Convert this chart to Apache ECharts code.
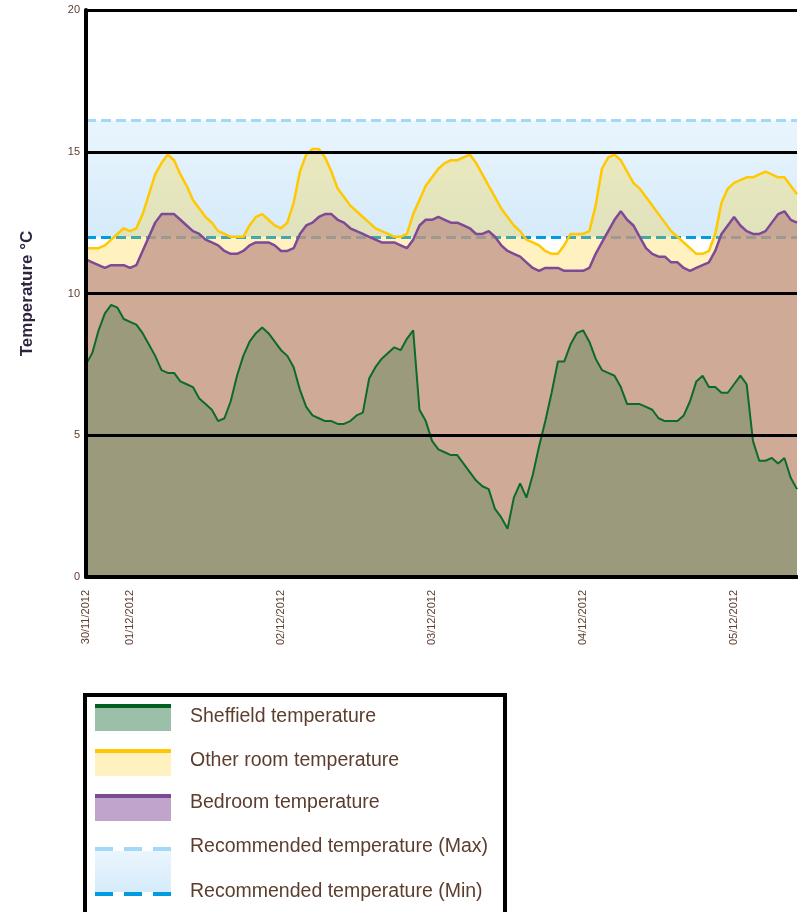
<!DOCTYPE html>
<html>
<head>
<meta charset="utf-8">
<script src="https://cdn.jsdelivr.net/npm/echarts@6/dist/echarts.min.js"></script>
<style>
  html, body { margin: 0; padding: 0; background: #fff; }
  #chart { width: 798px; height: 912px; }
</style>
</head>
<body>
<div id="chart"></div>
<script>
  // hourly readings, starting 17:00 on the first day
  var sheffield = [7.5, 7.9, 8.7, 9.3, 9.6, 9.5, 9.1, 9.0, 8.9, 8.6,
    8.2, 7.8, 7.3, 7.2, 7.2, 6.9, 6.8, 6.7, 6.3, 6.1,
    5.9, 5.5, 5.6, 6.2, 7.1, 7.8, 8.3, 8.6, 8.8, 8.6,
    8.3, 8.0, 7.8, 7.4, 6.6, 6.0, 5.7, 5.6, 5.5, 5.5,
    5.4, 5.4, 5.5, 5.7, 5.8, 7.0, 7.4, 7.7, 7.9, 8.1,
    8.0, 8.4, 8.7, 5.9, 5.5, 4.8, 4.5, 4.4, 4.3, 4.3,
    4.0, 3.7, 3.4, 3.2, 3.1, 2.4, 2.1, 1.7, 2.8, 3.3,
    2.8, 3.6, 4.6, 5.5, 6.5, 7.6, 7.6, 8.2, 8.6, 8.7,
    8.3, 7.7, 7.3, 7.2, 7.1, 6.7, 6.1, 6.1, 6.1, 6.0,
    5.9, 5.6, 5.5, 5.5, 5.5, 5.7, 6.2, 6.9, 7.1, 6.7,
    6.7, 6.5, 6.5, 6.8, 7.1, 6.8, 4.8, 4.1, 4.1, 4.2,
    4.0, 4.2, 3.5, 3.1];
  var otherRoom = [11.6, 11.6, 11.6, 11.7, 11.9, 12.1, 12.3, 12.2, 12.3, 12.8,
    13.5, 14.2, 14.6, 14.9, 14.7, 14.2, 13.8, 13.3, 13.0, 12.7,
    12.5, 12.2, 12.1, 12.0, 12.0, 12.0, 12.4, 12.7, 12.8, 12.6,
    12.4, 12.3, 12.5, 13.2, 14.3, 14.9, 15.1, 15.1, 14.8, 14.3,
    13.7, 13.4, 13.1, 12.9, 12.7, 12.5, 12.3, 12.2, 12.1, 12.0,
    12.0, 12.1, 12.8, 13.3, 13.8, 14.1, 14.4, 14.6, 14.7, 14.7,
    14.8, 14.9, 14.6, 14.2, 13.8, 13.4, 13.0, 12.7, 12.4, 12.2,
    11.9, 11.8, 11.7, 11.5, 11.4, 11.4, 11.7, 12.1, 12.1, 12.1,
    12.2, 13.1, 14.4, 14.8, 14.9, 14.7, 14.3, 13.9, 13.7, 13.4,
    13.1, 12.8, 12.5, 12.2, 12.0, 11.8, 11.6, 11.4, 11.4, 11.5,
    12.1, 13.2, 13.7, 13.9, 14.0, 14.1, 14.1, 14.2, 14.3, 14.2,
    14.1, 14.1, 13.8, 13.5];
  var bedroom = [11.2, 11.1, 11.0, 10.9, 11.0, 11.0, 11.0, 10.9, 11.0, 11.5,
    12.0, 12.5, 12.8, 12.8, 12.8, 12.6, 12.4, 12.2, 12.1, 11.9,
    11.8, 11.7, 11.5, 11.4, 11.4, 11.5, 11.7, 11.8, 11.8, 11.8,
    11.7, 11.5, 11.5, 11.6, 12.1, 12.4, 12.5, 12.7, 12.8, 12.8,
    12.6, 12.5, 12.3, 12.2, 12.1, 12.0, 11.9, 11.8, 11.8, 11.8,
    11.7, 11.6, 11.9, 12.4, 12.6, 12.6, 12.7, 12.6, 12.5, 12.5,
    12.4, 12.3, 12.1, 12.1, 12.2, 12.0, 11.7, 11.5, 11.4, 11.3,
    11.1, 10.9, 10.8, 10.9, 10.9, 10.9, 10.8, 10.8, 10.8, 10.8,
    10.9, 11.4, 11.8, 12.2, 12.6, 12.9, 12.6, 12.4, 12.0, 11.6,
    11.4, 11.3, 11.3, 11.1, 11.1, 10.9, 10.8, 10.9, 11.0, 11.1,
    11.5, 12.1, 12.4, 12.7, 12.4, 12.2, 12.1, 12.1, 12.2, 12.5,
    12.8, 12.9, 12.6, 12.5];
  var recMax = 16.1;
  var recMin = 12;
  var tickHours = [0, 7, 31, 55, 79, 103];
  var tickLabels = ['30/11/2012', '01/12/2012', '02/12/2012', '03/12/2012', '04/12/2012', '05/12/2012'];
  var legendNames = ['Sheffield temperature', 'Other room temperature', 'Bedroom temperature',
    'Recommended temperature (Max)', 'Recommended temperature (Min)'];

  var hours = sheffield.map(function (v, i) { return i; });
  var txt = '#5C3D2E';

  var chart = echarts.init(document.getElementById('chart'));

  // legend box drawn by hand (swatches have a line on top of a fill)
  var lg = [];
  lg.push({ type: 'rect', shape: { x: 85, y: 695, width: 420, height: 230 },
    style: { fill: '#fff', stroke: '#000', lineWidth: 4 }, z: 20 });
  var sw = [
    { fill: '#9BBFA8', top: '#03601F', y: 704 },
    { fill: '#FFF2C0', top: '#FFC800', y: 749 },
    { fill: '#C0A4CC', top: '#7B4A92', y: 794 }
  ];
  sw.forEach(function (s) {
    lg.push({ type: 'rect', shape: { x: 95, y: s.y + 4, width: 76, height: 23 }, style: { fill: s.fill }, z: 21 });
    lg.push({ type: 'rect', shape: { x: 95, y: s.y, width: 76, height: 4 }, style: { fill: s.top }, z: 21 });
  });
  lg.push({ type: 'rect', shape: { x: 95, y: 851, width: 76, height: 41 },
    style: { fill: new echarts.graphic.LinearGradient(0, 0, 0, 1, [
      { offset: 0, color: '#EAF5FD' }, { offset: 1, color: '#D6EBFA' }]) }, z: 21 });
  lg.push({ type: 'line', shape: { x1: 95, y1: 849, x2: 171, y2: 849 },
    style: { stroke: '#A3D9F7', lineWidth: 4, lineDash: [18, 11] }, z: 22 });
  lg.push({ type: 'line', shape: { x1: 95, y1: 894, x2: 171, y2: 894 },
    style: { stroke: '#009BE0', lineWidth: 4, lineDash: [18, 11] }, z: 22 });
  var ty = [717, 761, 803, 847, 892];
  legendNames.forEach(function (n, i) {
    lg.push({ type: 'text', x: 190, y: ty[i], z: 22,
      style: { text: n, fill: txt, fontSize: 19.5, fontFamily: 'Liberation Sans', verticalAlign: 'middle' } });
  });

  chart.setOption({
    animation: false,
    grid: { left: 86, right: 1, top: 10, bottom: 335 },
    xAxis: {
      type: 'category',
      data: hours,
      boundaryGap: false,
      z: 10,
      axisLine: { lineStyle: { color: '#000', width: 4 } },
      axisTick: { show: false },
      axisLabel: {
        rotate: 90,
        margin: 13,
        fontSize: 11,
        color: txt,
        fontFamily: 'Liberation Sans',
        interval: function (i) { return tickHours.indexOf(i) >= 0; },
        formatter: function (v, i) { return tickLabels[tickHours.indexOf(i)]; }
      },
      splitLine: { show: false }
    },
    yAxis: {
      type: 'value',
      min: 0,
      max: 20,
      interval: 5,
      z: 10,
      name: 'Temperature °C',
      nameLocation: 'middle',
      nameRotate: 90,
      nameGap: 50,
      nameTextStyle: { fontSize: 17, fontWeight: 'bold', color: '#2E2440', fontFamily: 'Liberation Sans' },
      axisLine: { show: true, lineStyle: { color: '#000', width: 4 } },
      axisTick: { show: false },
      axisLabel: { fontSize: 11, color: txt, margin: 6, fontFamily: 'Liberation Sans' },
      splitLine: { lineStyle: { color: '#000', width: 3 } }
    },
    series: [
      {
        name: 'Recommended',
        type: 'line',
        data: [],
        z: 1,
        silent: true,
        markArea: {
          silent: true,
          z: 0,
          itemStyle: {
            color: new echarts.graphic.LinearGradient(0, 0, 0, 1, [
              { offset: 0, color: '#E9F5FD' }, { offset: 1, color: '#D5EAFA' }])
          },
          data: [[{ yAxis: recMin }, { yAxis: recMax }]]
        },
        markLine: {
          silent: true,
          z: 1,
          symbol: 'none',
          label: { show: false },
          data: [
            { yAxis: recMax, lineStyle: { color: '#A3D9F7', width: 3, type: [10, 5] } },
            { yAxis: recMin, lineStyle: { color: '#009BE0', width: 3, type: [10, 5] } }
          ]
        }
      },
      {
        name: legendNames[1],
        type: 'line',
        data: otherRoom,
        z: 2,
        showSymbol: false,
        lineStyle: { color: '#FFC800', width: 2.5 },
        areaStyle: { color: 'rgba(255,205,13,0.26)', opacity: 1 }
      },
      {
        name: legendNames[2],
        type: 'line',
        data: bedroom,
        z: 3,
        showSymbol: false,
        lineStyle: { color: '#7E4A96', width: 2.5 },
        areaStyle: { color: 'rgba(191,147,137,0.75)', opacity: 1 }
      },
      {
        name: legendNames[0],
        type: 'line',
        data: sheffield,
        z: 4,
        showSymbol: false,
        lineStyle: { color: '#0B6A2C', width: 2 },
        areaStyle: { color: '#9C9A7C', opacity: 1 }
      }
    ],
    graphic: lg
  });
</script>
</body>
</html>
